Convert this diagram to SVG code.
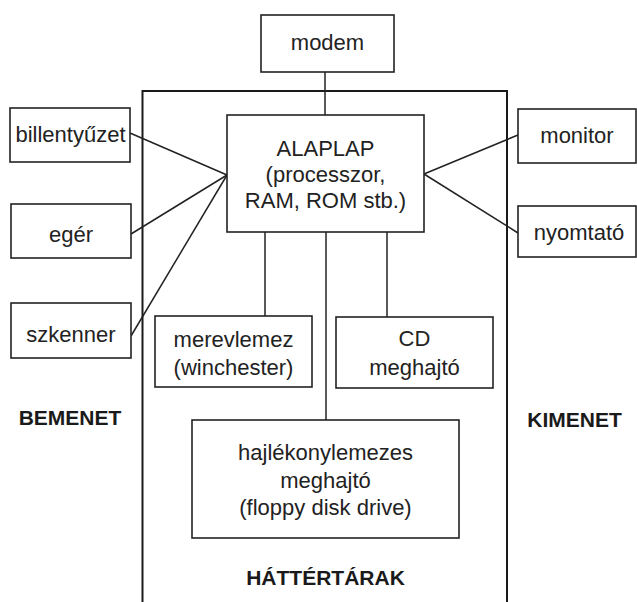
<svg xmlns="http://www.w3.org/2000/svg" width="637" height="602" viewBox="0 0 637 602">
<style>
.box{fill:#fff;stroke:#222;stroke-width:1.6}
.frame{fill:none;stroke:#1a1a1a;stroke-width:2}
.conn line{stroke:#222;stroke-width:1.5}
text{font-family:"Liberation Sans",Arial,Helvetica,sans-serif;font-size:22px;fill:#222;text-anchor:middle}
.lbl{font-weight:bold;font-size:21px;fill:#1a1a1a}
</style>
<rect width="637" height="602" fill="#fff"/>
<g id="frame"><path class="frame" d="M142.5,602 V91 H507 V602"/></g>
<g id="connectors" class="conn">
<line x1="325" y1="72" x2="325" y2="115"/>
<line x1="130" y1="133" x2="227" y2="175"/>
<line x1="131" y1="234" x2="227" y2="175"/>
<line x1="131" y1="336" x2="227" y2="175"/>
<line x1="424" y1="174" x2="518" y2="135"/>
<line x1="424" y1="174" x2="518" y2="233"/>
<line x1="265" y1="232" x2="265" y2="316"/>
<line x1="326" y1="232" x2="326" y2="420"/>
<line x1="387" y1="232" x2="387" y2="317"/>
</g>
<g id="modem"><rect class="box" x="261" y="15" width="133" height="57"/><text x="327.5" y="50">modem</text></g>
<g id="alaplap"><rect class="box" x="227" y="115" width="197" height="117"/>
<text x="325.5" y="156">ALAPLAP</text><text x="325.5" y="182">(processzor,</text><text x="325.5" y="208">RAM, ROM stb.)</text></g>
<g id="billentyuzet"><rect class="box" x="10" y="108" width="120" height="54"/><text x="70.5" y="142">billentyűzet</text></g>
<g id="eger"><rect class="box" x="11" y="204" width="120" height="54"/><text x="71" y="242">egér</text></g>
<g id="szkenner"><rect class="box" x="11" y="303" width="120" height="55"/><text x="71" y="342">szkenner</text></g>
<g id="monitor"><rect class="box" x="518" y="109" width="118" height="54"/><text x="577" y="143">monitor</text></g>
<g id="nyomtato"><rect class="box" x="518" y="206" width="118" height="51"/><text x="579" y="240">nyomtató</text></g>
<g id="merevlemez"><rect class="box" x="155" y="316" width="157" height="71"/><text x="233.5" y="347">merevlemez</text><text x="233.5" y="375">(winchester)</text></g>
<g id="cd"><rect class="box" x="336" y="317" width="157" height="71"/><text x="414.5" y="346">CD</text><text x="414.5" y="375">meghajtó</text></g>
<g id="floppy"><rect class="box" x="192" y="420" width="267" height="118"/>
<text x="325.5" y="460">hajlékonylemezes</text><text x="325.5" y="487.5">meghajtó</text><text x="325.5" y="515">(floppy disk drive)</text></g>
<g id="labels">
<text class="lbl" x="70" y="425">BEMENET</text>
<text class="lbl" x="574.5" y="427">KIMENET</text>
<text class="lbl" x="325.5" y="585">HÁTTÉRTÁRAK</text>
</g>
</svg>
